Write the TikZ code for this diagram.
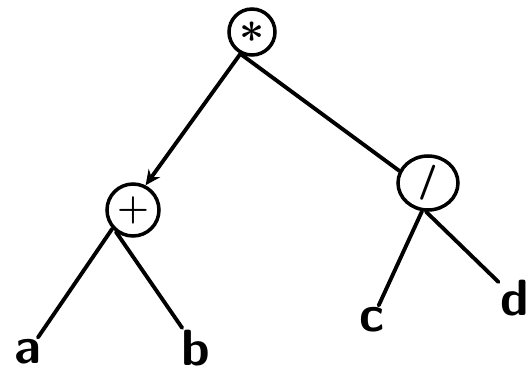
\documentclass[tikz,border=0pt]{standalone}
\usepackage{tikz}
\usetikzlibrary{arrows.meta,positioning,shapes.geometric}

\begin{document}
\begin{tikzpicture}[x=0.02cm, y=-0.02cm,
    op/.style={draw, circle, line width=2pt, minimum size=0.92cm, inner sep=0pt},
    leaf/.style={inner sep=1pt, font=\fontsize{29}{34}\selectfont\sffamily\bfseries},
    branch/.style={line width=2.2pt, line cap=round},
    arrow/.style={branch, -{Stealth[length=3mm, width=2.8mm]}}
  ]
    \useasboundingbox (0,0) rectangle (529,376);
    % operators
    \node[op, font=\fontsize{32}{36}\selectfont\boldmath] (mul) at (252,32) {$\ast$};
    \node[op, minimum size=1.04cm, font=\fontsize{22}{26}\selectfont\boldmath] (plus) at (133,210) {$+$};
    \node[op, ellipse, minimum width=1.2cm, minimum height=1.08cm, font=\fontsize{20}{24}\selectfont\sffamily\bfseries] (div) at (428,183) {/};
    % operands
    \node[leaf] (a) at (28,352) {a};
    \node[leaf] (b) at (196,348) {b};
    \node[leaf] (c) at (372,320) {c};
    \node[leaf] (d) at (515,298) {d};
    \draw[arrow] (mul.242) -- (plus.63);
    \draw[branch] (mul.242) -- (div.157);
    \draw[branch] (plus.222) -- (a);
    \draw[branch] (plus.232) -- (b);
    \draw[branch] (div.258) -- (c);
    \draw[branch] (div.266) -- (d);
  \end{tikzpicture}
\end{document}
